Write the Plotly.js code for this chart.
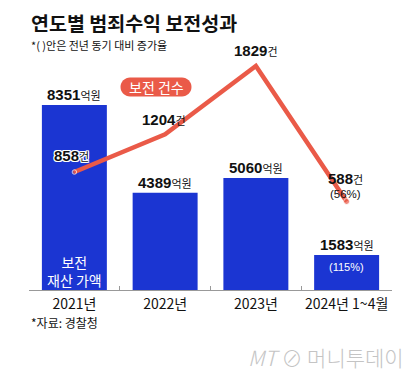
<!DOCTYPE html>
<html>
<head>
<meta charset="utf-8">
<script src="https://cdn.plot.ly/plotly-3.0.1.min.js"></script>
<style>html,body{margin:0;padding:0;background:#fff;}#chart{width:420px;height:380px;}</style>
</head>
<body>
<div id="chart"></div>
<script>
// ---- data ----
const categories = ['2021년', '2022년', '2023년', '2024년 1~4월'];
const assetValues = [8351, 4389, 5060, 1583];   // 보전 재산 가액 (억원)
const caseCounts = [858, 1204, 1829, 588];       // 보전 건수 (건)
const assetGrowth = [null, null, null, '115%'];
const caseGrowth = [null, null, null, '56%'];
const titleText = '연도별 범죄수익 보전성과';
const subtitleText = '*( )안은 전년 동기 대비 증가율';
const sourceText = '*자료: 경찰청';
const legendText = '보전 건수';
const barInnerText = '보전<br>재산 가액';

// ---- layout helpers (pixel -> paper) ----
const L = 29, R = 392, T = 40, B = 290;
const px = v => (v - L) / (R - L);
const py = v => (B - v) / (B - T);

const BLUE = '#1b35d2';
const RED = '#ea5a48';
const KR = 'Noto Sans CJK KR';
const NUM = 'Liberation Sans Narrow, Arial Narrow, Liberation Sans, Arial';

const annotations = [];

// title etc
annotations.push({xref:'paper', yref:'paper', x:px(29), y:py(23), xanchor:'left', yanchor:'middle',
  text:'<b>' + titleText + '</b>', showarrow:false, font:{family:KR, size:19.5, color:'#111'}});
annotations.push({xref:'paper', yref:'paper', x:px(29), y:py(45), xanchor:'left', yanchor:'middle',
  text:subtitleText, showarrow:false, font:{family:KR, size:11, color:'#111'}});
annotations.push({xref:'paper', yref:'paper', x:px(29), y:py(322), xanchor:'left', yanchor:'middle',
  text:sourceText, showarrow:false, font:{family:KR, size:12, color:'#111'}});
annotations.push({xref:'paper', yref:'paper', x:px(406), y:py(357), xanchor:'right', yanchor:'middle',
  text:'<i>MT</i> ⊘ 머니투데이', showarrow:false, font:{family:KR, size:21, color:'#c4c4c4', weight:300}});

// legend pill text
annotations.push({xref:'paper', yref:'paper', x:px(156), y:py(87), xanchor:'center', yanchor:'middle',
  text:legendText, showarrow:false, font:{family:KR, size:14, color:'#fff'}});

// bar value labels
assetValues.forEach((v, i) => {
  annotations.push({xref:'x', yref:'y', x:categories[i], y:v, xanchor:'center', yanchor:'bottom', yshift:0,
    text:'<b>' + v + '</b><span style="font-size:11px;font-family:\'Noto Sans CJK KR\'">억원</span>',
    showarrow:false, font:{family:NUM, size:15, color:'#111'}});
  if (assetGrowth[i]) {
    annotations.push({xref:'x', yref:'paper', x:categories[i], y:py(267), xanchor:'center', yanchor:'middle',
      text:'(' + assetGrowth[i] + ')', showarrow:false, font:{family:'Liberation Sans', size:11, color:'#fff'}});
  }
});
annotations.push({xref:'x', yref:'paper', x:categories[0], y:py(271), xanchor:'center', yanchor:'middle',
  text:barInnerText, showarrow:false, font:{family:KR, size:14, color:'#fff'}});

// line value labels
const lineShift = [[-3, 17], [-1, 15], [0, 15], [-1, 23]];
caseCounts.forEach((v, i) => {
  const f = {family:NUM, size:15, color:'#111'};
  if (i === 0) f.shadow = '1px 1px 0 #fff, -1px -1px 0 #fff, 1px -1px 0 #fff, -1px 1px 0 #fff, 0 1px 0 #fff, 0 -1px 0 #fff, 1px 0 0 #fff, -1px 0 0 #fff';
  annotations.push({xref:'x', yref:'y2', x:categories[i], y:v, xanchor:'center', yanchor:'middle',
    xshift:lineShift[i][0], yshift:lineShift[i][1],
    text:'<b>' + v + '</b><span style="font-size:11px;font-family:\'Noto Sans CJK KR\'">건</span>',
    showarrow:false, font:f});
  if (caseGrowth[i]) {
    annotations.push({xref:'x', yref:'y2', x:categories[i], y:v, xanchor:'center', yanchor:'middle',
      xshift:-1, yshift:8, text:'(' + caseGrowth[i] + ')', showarrow:false,
      font:{family:'Liberation Sans', size:11.5, color:'#111'}});
  }
});

const pill = 'M -26,-9.5 L 26,-9.5 C 31.2,-9.5 35.5,-5.2 35.5,0 C 35.5,5.2 31.2,9.5 26,9.5 L -26,9.5 C -31.2,9.5 -35.5,5.2 -35.5,0 C -35.5,-5.2 -31.2,-9.5 -26,-9.5 Z';

const data = [
  {type:'bar', x:categories, y:assetValues, marker:{color:BLUE}, width:0.716, hoverinfo:'skip'},
  {type:'scatter', mode:'lines+markers', x:categories, y:caseCounts, yaxis:'y2',
   line:{color:RED, width:4.5}, marker:{color:RED, size:[4.5, 0, 0, 6]}, hoverinfo:'skip'}
];

const layout = {
  width:420, height:380,
  margin:{l:L, r:420 - R, t:T, b:380 - B, pad:0},
  paper_bgcolor:'#fff', plot_bgcolor:'#fff',
  showlegend:false,
  font:{family:KR, color:'#111'},
  xaxis:{type:'category', showline:true, linecolor:'#999', linewidth:1,
    ticks:'inside', tickson:'boundaries', ticklen:4, tickcolor:'#999', tickangle:0,
    tickfont:{family:KR, size:14, color:'#111'}, ticklabelstandoff:1,
    showgrid:false, zeroline:false, fixedrange:true},
  yaxis:{range:[0, 11287], visible:false, showgrid:false, zeroline:false, fixedrange:true},
  yaxis2:{range:[-222.5, 2067], overlaying:'y', visible:false, showgrid:false, zeroline:false},
  shapes:[{type:'path', xref:'paper', yref:'paper', xsizemode:'pixel', ysizemode:'pixel',
    xanchor:px(156), yanchor:py(87), path:pill, fillcolor:RED, line:{width:0}}],
  annotations:annotations
};

Plotly.newPlot('chart', data, layout, {displayModeBar:false, staticPlot:true});
</script>
</body>
</html>
